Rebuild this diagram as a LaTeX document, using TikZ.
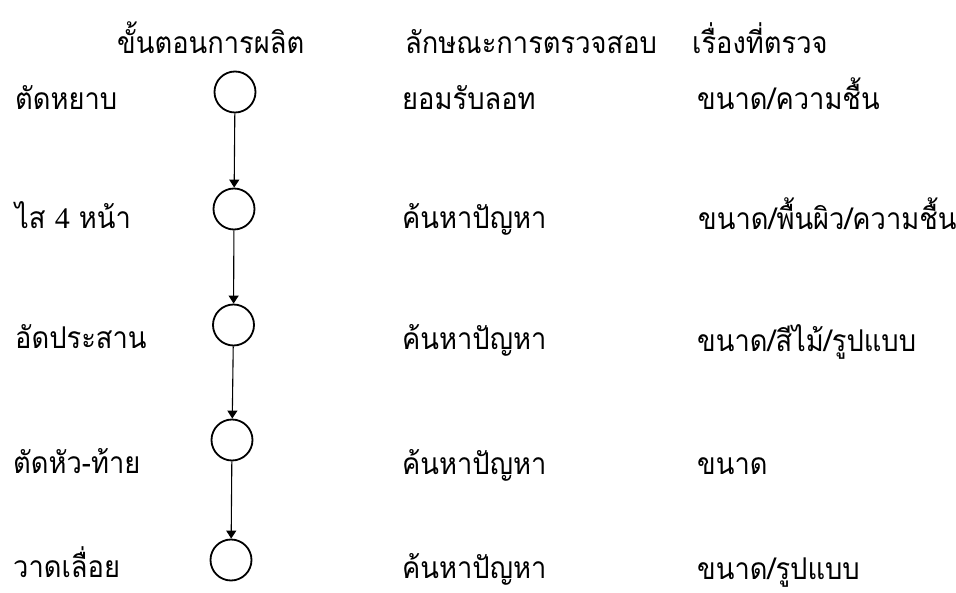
\documentclass[tikz,border=0pt]{standalone}
\usepackage{fontspec}
\newfontfamily\thaifont[Script=Thai,FakeStretch=0.91]{Loma}
\newfontfamily\digitfont{Liberation Serif}
\usetikzlibrary{arrows.meta}
\begin{document}
\begin{tikzpicture}[x=1pt,y=-1pt,
  lbl/.style={anchor=base west,inner sep=0pt,font=\thaifont\fontsize{30}{36}\selectfont},
  hdr/.style={lbl},
  stage/.style={circle,draw,line width=1.8pt,minimum size=41pt,inner sep=0pt},
  flow/.style={line width=1.1pt,-{Triangle[length=8pt,width=10pt]}}]
\useasboundingbox (0,0) rectangle (956,593);
% headers
\node[hdr] (h1) at (117,54) {ขั้นตอนการผลิต};
\node[hdr] (h2) at (405,54) {ลักษณะการตรวจสอบ};
\node[hdr] (h3) at (692,54) {เรื่องที่ตรวจ};
% circles
\node[stage] (c1) at (235,92) {};
\node[stage] (c2) at (234,209) {};
\node[stage] (c3) at (233.5,325) {};
\node[stage] (c4) at (232,440) {};
\node[stage] (c5) at (231,560) {};
\draw[flow] (c1) -- (c2);
\draw[flow] (c2) -- (c3);
\draw[flow] (c3) -- (c4);
\draw[flow] (c4) -- (c5);
% left column
\node[lbl] (l1) at (15,110) {ตัดหยาบ};
\node[lbl] (l2) at (15,229) {ไส {\digitfont 4} หน้า};
\node[lbl] (l3) at (15,349) {อัดประสาน};
\node[lbl] (l4) at (13,473) {ตัดหัว-ท้าย};
\node[lbl] (l5) at (13,577) {วาดเลื่อย};
% middle column
\node[lbl] (m1) at (402,110) {ยอมรับลอท};
\node[lbl] (m2) at (402,229) {ค้นหาปัญหา};
\node[lbl] (m3) at (402,350) {ค้นหาปัญหา};
\node[lbl] (m4) at (402,475) {ค้นหาปัญหา};
\node[lbl] (m5) at (402,578) {ค้นหาปัญหา};
% right column
\node[lbl] (r1) at (697,110) {ขนาด/ความชื้น};
\node[lbl] (r2) at (698,230) {ขนาด/พื้นผิว/ความชื้น};
\node[lbl] (r3) at (697,352) {ขนาด/สีไม้/รูปแบบ};
\node[lbl] (r4) at (697,475) {ขนาด};
\node[lbl] (r5) at (697,579) {ขนาด/รูปแบบ};
\end{tikzpicture}
\end{document}
